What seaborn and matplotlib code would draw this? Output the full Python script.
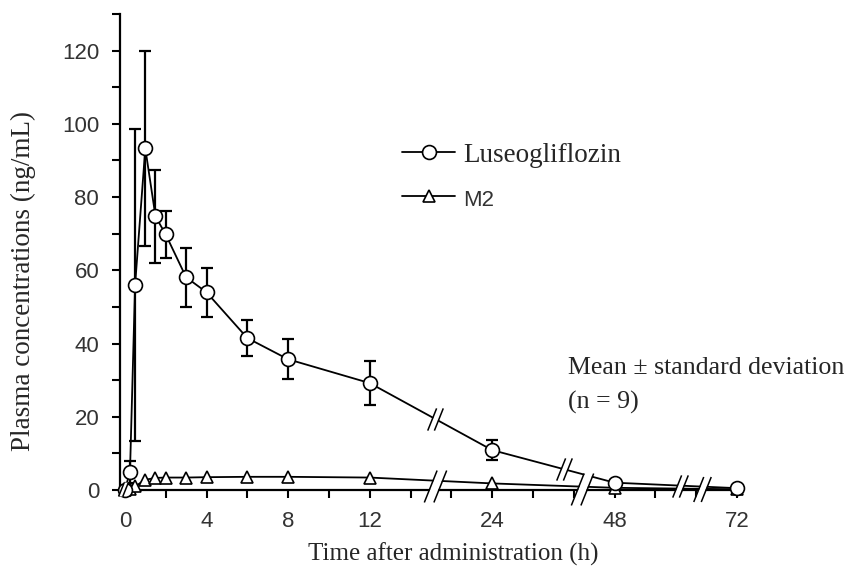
import numpy as np
import matplotlib
matplotlib.use("Agg")
import matplotlib.pyplot as plt
from matplotlib.path import Path
import seaborn as sns

# sampling times (h) and concentrations (ng/mL)
time_h = [0, 0.25, 0.5, 1, 1.5, 2, 3, 4, 6, 8, 12, 24, 48, 72]
luseo_mean = [0, 5.0, 56.0, 93.3, 74.7, 69.8, 58.1, 54.0, 41.5, 35.7, 29.2, 10.9, 2.0, 0.5]
luseo_sd = [0, 3.0, 42.5, 26.7, 12.8, 6.4, 8.0, 6.7, 5.0, 5.5, 6.0, 2.7, 0.8, 0.3]
m2_mean = [0, 0.2, 1.0, 2.8, 3.3, 3.4, 3.4, 3.5, 3.6, 3.6, 3.4, 1.8, 0.6, 0.2]

x_tick_hours = [0, 4, 8, 12, 24, 48, 72]
y_tick_labels = [0, 20, 40, 60, 80, 100, 120]


def to_axis(t):
    # broken time axis: 0-12 h linear, then compressed segments
    t = np.asarray(t, dtype=float)
    return np.where(t <= 12, t,
           np.where(t <= 24, 12 + (t - 12) * 0.5,
                    18 + (t - 24) * 0.25))


pos = to_axis(time_h)

sns.set_theme(style="ticks")
plt.rcParams["font.family"] = ["Liberation Sans", "DejaVu Sans"]
serif = ["Liberation Serif", "DejaVu Serif"]

fig = plt.figure(figsize=(8.46, 5.71), dpi=100)
ax = fig.add_axes([120 / 846, 1 - 490 / 571, 620 / 846, 476 / 571])

ax.errorbar(pos, luseo_mean, yerr=luseo_sd, fmt="none", ecolor="black",
            elinewidth=1.6, capsize=4.5, capthick=1.6, zorder=2, clip_on=False)

sns.lineplot(x=pos, y=luseo_mean, ax=ax, color="black", linewidth=1.3,
             marker="o", markersize=10, markerfacecolor="white",
             markeredgecolor="black", markeredgewidth=1.2,
             label="Luseogliflozin", zorder=4, clip_on=False)
sns.lineplot(x=pos, y=m2_mean, ax=ax, color="black", linewidth=1.3,
             marker="^", markersize=9, markerfacecolor="white",
             markeredgecolor="black", markeredgewidth=1.2,
             label="M2", zorder=3, clip_on=False)

# break marks "//"
slash = Path([(-0.35, -0.5), (0.05, 0.5), (-0.05, -0.5), (0.35, 0.5)],
             [Path.MOVETO, Path.LINETO, Path.MOVETO, Path.LINETO])
gap = Path([(-0.33, -0.5), (-0.07, -0.5), (0.33, 0.5), (0.07, 0.5), (-0.33, -0.5)],
           [Path.MOVETO, Path.LINETO, Path.LINETO, Path.LINETO, Path.CLOSEPOLY])


def brk(x, y, size):
    ax.plot([x], [y], marker=gap, markersize=size, markerfacecolor="white",
            markeredgewidth=0, linestyle="none", zorder=5, clip_on=False)
    ax.plot([x], [y], marker=slash, markersize=size, markeredgecolor="black",
            markeredgewidth=1.1, linestyle="none", zorder=6, clip_on=False)


for bx in [15.2, 21.5, 27.2]:
    brk(bx, np.interp(bx, pos, luseo_mean), 16)
brk(15.2, 1.2, 23)
brk(22.4, 0.3, 23)
brk(28.3, 0.3, 18)
brk(-0.1, 0.2, 10)

ax.set_xlim(-0.24, 30.15)
ax.set_ylim(0, 130)

xt = np.arange(0, 31, 2)
ax.set_xticks(xt)
lab_pos = to_axis(x_tick_hours)
ax.set_xticklabels([str(x_tick_hours[list(lab_pos).index(p)]) if p in lab_pos else ""
                    for p in xt])
ax.set_yticks(np.arange(0, 131, 10))
ax.set_yticklabels([str(v) if v in y_tick_labels else "" for v in range(0, 131, 10)])

ax.tick_params(axis="both", direction="out", length=6, width=1.5,
               labelsize=16, colors="black", labelcolor="#333333")
ax.tick_params(axis="x", pad=9)
ax.tick_params(axis="y", pad=9)
for side in ["left", "bottom"]:
    ax.spines[side].set_linewidth(1.6)
    ax.spines[side].set_color("black")
sns.despine(ax=ax)

ax.set_xlabel("Time after administration (h)", family=serif, fontsize=18)
ax.xaxis.set_label_coords(0.537, -0.11)
ax.xaxis.label.set_va("top")
ax.set_ylabel("Plasma concentrations (ng/mL)", family=serif, fontsize=19.5)
ax.yaxis.set_label_coords(-0.135, 0.44)

leg = ax.legend(loc="upper left", bbox_to_anchor=(0.455, 0.73), frameon=False,
                fontsize=19.5, handlelength=1.96, handletextpad=0.3,
                labelspacing=0.72, borderpad=0, borderaxespad=0)
leg.get_texts()[0].set_family(serif)
leg.get_texts()[1].set_color("#333333")
leg.get_texts()[1].set_fontsize(16)

ax.text(0.722, 0.279, "Mean \u00b1 standard deviation\n(n = 9)", transform=ax.transAxes,
        family=serif, fontsize=18.6, ha="left", va="top", linespacing=1.65)

fig.savefig("out.png", dpi=100)
